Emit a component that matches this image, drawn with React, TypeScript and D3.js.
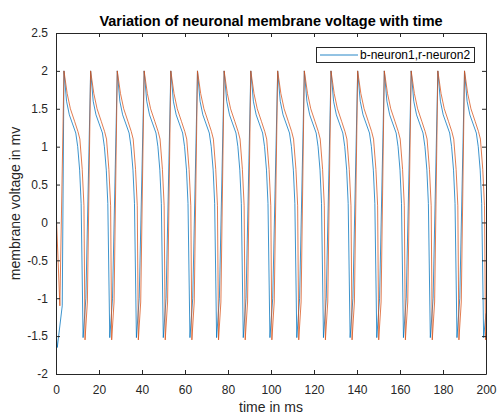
import React, { useEffect, useRef } from "react";
import * as d3 from "d3";

// axis ticks
const timeTicks = [0, 20, 40, 60, 80, 100, 120, 140, 160, 180, 200];
const voltTicks = [-2, -1.5, -1, -0.5, 0, 0.5, 1, 1.5, 2, 2.5];

const chartTitle = "Variation of neuronal membrane voltage with time";
const xTitle = "time in ms";
const yTitle = "membrane voltage in mv";
const legendLabel = "b-neuron1,r-neuron2";

// neuron 1 (blue)
const neuron1Time = [
  0, 0.6, 2.9,
  3.7, 4.9, 6.2, 7.7, 9.2, 10.1, 11.0, 11.7, 12.6, 13.9,
  16.1, 17.3, 18.6, 20.1, 21.6, 22.5, 23.4, 24.1, 25.0, 26.3,
  28.5, 29.7, 31.0, 32.5, 34.0, 34.9, 35.8, 36.5, 37.4, 38.7,
  41.0, 42.2, 43.5, 45.0, 46.5, 47.4, 48.3, 49.0, 49.9, 51.2,
  53.4, 54.6, 55.9, 57.4, 58.9, 59.8, 60.7, 61.4, 62.3, 63.6,
  65.8, 67.0, 68.3, 69.8, 71.3, 72.2, 73.1, 73.8, 74.7, 76.0,
  78.2, 79.4, 80.7, 82.2, 83.7, 84.6, 85.5, 86.2, 87.1, 88.4,
  90.6, 91.8, 93.1, 94.6, 96.1, 97.0, 97.9, 98.6, 99.5, 100.8,
  103.1, 104.3, 105.6, 107.1, 108.6, 109.5, 110.4, 111.1, 112.0, 113.3,
  115.5, 116.7, 118.0, 119.5, 121.0, 121.9, 122.8, 123.5, 124.4, 125.7,
  127.9, 129.1, 130.4, 131.9, 133.4, 134.3, 135.2, 135.9, 136.8, 138.1,
  140.3, 141.5, 142.8, 144.3, 145.8, 146.7, 147.6, 148.3, 149.2, 150.5,
  152.7, 153.9, 155.2, 156.7, 158.2, 159.1, 160.0, 160.7, 161.6, 162.9,
  165.2, 166.4, 167.7, 169.2, 170.7, 171.6, 172.5, 173.2, 174.1, 175.4,
  177.6, 178.8, 180.1, 181.6, 183.1, 184.0, 184.9, 185.6, 186.5, 187.8,
  190.0, 191.2, 192.5, 194.0, 195.5, 196.4, 197.3, 198.0, 198.9, 200,
];
const neuron1Volt = [
  -1.45, -1.65, -1.1,
  2.0, 1.6, 1.42, 1.3, 1.18, 1.0, 0.69, 0.25, -1.52, -1.0,
  2.0, 1.6, 1.42, 1.3, 1.18, 1.0, 0.69, 0.25, -1.52, -1.0,
  2.0, 1.6, 1.42, 1.3, 1.18, 1.0, 0.69, 0.25, -1.52, -1.0,
  2.0, 1.6, 1.42, 1.3, 1.18, 1.0, 0.69, 0.25, -1.52, -1.0,
  2.0, 1.6, 1.42, 1.3, 1.18, 1.0, 0.69, 0.25, -1.52, -1.0,
  2.0, 1.6, 1.42, 1.3, 1.18, 1.0, 0.69, 0.25, -1.52, -1.0,
  2.0, 1.6, 1.42, 1.3, 1.18, 1.0, 0.69, 0.25, -1.52, -1.0,
  2.0, 1.6, 1.42, 1.3, 1.18, 1.0, 0.69, 0.25, -1.52, -1.0,
  2.0, 1.6, 1.42, 1.3, 1.18, 1.0, 0.69, 0.25, -1.52, -1.0,
  2.0, 1.6, 1.42, 1.3, 1.18, 1.0, 0.69, 0.25, -1.52, -1.0,
  2.0, 1.6, 1.42, 1.3, 1.18, 1.0, 0.69, 0.25, -1.52, -1.0,
  2.0, 1.6, 1.42, 1.3, 1.18, 1.0, 0.69, 0.25, -1.52, -1.0,
  2.0, 1.6, 1.42, 1.3, 1.18, 1.0, 0.69, 0.25, -1.52, -1.0,
  2.0, 1.6, 1.42, 1.3, 1.18, 1.0, 0.69, 0.25, -1.52, -1.0,
  2.0, 1.6, 1.42, 1.3, 1.18, 1.0, 0.69, 0.25, -1.52, -1.0,
  2.0, 1.6, 1.42, 1.3, 1.18, 1.0, 0.69, 0.25, -1.52, -1.2,
];

// neuron 2 (red)
const neuron2Time = [
  0, 1.8,
  3.7, 5.2, 6.7, 8.7, 10.2, 11.1, 12.2, 13.0, 13.5, 14.6,
  16.1, 17.6, 19.1, 21.1, 22.6, 23.5, 24.6, 25.4, 25.9, 27.0,
  28.5, 30.0, 31.5, 33.5, 35.0, 35.9, 37.0, 37.8, 38.3, 39.4,
  41.0, 42.5, 44.0, 46.0, 47.5, 48.4, 49.5, 50.3, 50.8, 51.9,
  53.4, 54.9, 56.4, 58.4, 59.9, 60.8, 61.9, 62.7, 63.2, 64.3,
  65.8, 67.3, 68.8, 70.8, 72.3, 73.2, 74.3, 75.1, 75.6, 76.7,
  78.2, 79.7, 81.2, 83.2, 84.7, 85.6, 86.7, 87.5, 88.0, 89.1,
  90.6, 92.1, 93.6, 95.6, 97.1, 98.0, 99.1, 99.9, 100.4, 101.5,
  103.1, 104.6, 106.1, 108.1, 109.6, 110.5, 111.6, 112.4, 112.9, 114.0,
  115.5, 117.0, 118.5, 120.5, 122.0, 122.9, 124.0, 124.8, 125.3, 126.4,
  127.9, 129.4, 130.9, 132.9, 134.4, 135.3, 136.4, 137.2, 137.7, 138.8,
  140.3, 141.8, 143.3, 145.3, 146.8, 147.7, 148.8, 149.6, 150.1, 151.2,
  152.7, 154.2, 155.7, 157.7, 159.2, 160.1, 161.2, 162.0, 162.5, 163.6,
  165.2, 166.7, 168.2, 170.2, 171.7, 172.6, 173.7, 174.5, 175.0, 176.1,
  177.6, 179.1, 180.6, 182.6, 184.1, 185.0, 186.1, 186.9, 187.4, 188.5,
  190.0, 191.5, 193.0, 195.0, 196.5, 197.4, 198.5, 199.3, 199.8, 200,
];
const neuron2Volt = [
  0.2, -1.1,
  2.0, 1.7, 1.5, 1.33, 1.2, 1.1, 0.7, 0.22, -1.55, -1.05,
  2.0, 1.7, 1.5, 1.33, 1.2, 1.1, 0.7, 0.22, -1.55, -1.05,
  2.0, 1.7, 1.5, 1.33, 1.2, 1.1, 0.7, 0.22, -1.55, -1.05,
  2.0, 1.7, 1.5, 1.33, 1.2, 1.1, 0.7, 0.22, -1.55, -1.05,
  2.0, 1.7, 1.5, 1.33, 1.2, 1.1, 0.7, 0.22, -1.55, -1.05,
  2.0, 1.7, 1.5, 1.33, 1.2, 1.1, 0.7, 0.22, -1.55, -1.05,
  2.0, 1.7, 1.5, 1.33, 1.2, 1.1, 0.7, 0.22, -1.55, -1.05,
  2.0, 1.7, 1.5, 1.33, 1.2, 1.1, 0.7, 0.22, -1.55, -1.05,
  2.0, 1.7, 1.5, 1.33, 1.2, 1.1, 0.7, 0.22, -1.55, -1.05,
  2.0, 1.7, 1.5, 1.33, 1.2, 1.1, 0.7, 0.22, -1.55, -1.05,
  2.0, 1.7, 1.5, 1.33, 1.2, 1.1, 0.7, 0.22, -1.55, -1.05,
  2.0, 1.7, 1.5, 1.33, 1.2, 1.1, 0.7, 0.22, -1.55, -1.05,
  2.0, 1.7, 1.5, 1.33, 1.2, 1.1, 0.7, 0.22, -1.55, -1.05,
  2.0, 1.7, 1.5, 1.33, 1.2, 1.1, 0.7, 0.22, -1.55, -1.05,
  2.0, 1.7, 1.5, 1.33, 1.2, 1.1, 0.7, 0.22, -1.55, -1.05,
  2.0, 1.7, 1.5, 1.33, 1.2, 1.1, 0.7, 0.22, -1.55, -1.45,
];

const width = 498;
const height = 417;
const plot = { left: 56, right: 486, top: 33, bottom: 374 };
const axisColor = "#262626";
const font = "'Liberation Sans', Arial, Helvetica, sans-serif";

export default function App() {
  const svgRef = useRef<SVGSVGElement>(null);

  useEffect(() => {
    const svg = d3.select(svgRef.current);
    svg.selectAll("*").remove();

    const x = d3.scaleLinear().domain([0, 200]).range([plot.left, plot.right]);
    const y = d3.scaleLinear().domain([-2, 2.5]).range([plot.bottom, plot.top]);

    svg.append("rect").attr("width", width).attr("height", height).attr("fill", "#fff");

    svg.append("defs").append("clipPath").attr("id", "plot-clip")
      .append("rect")
      .attr("x", plot.left).attr("y", plot.top)
      .attr("width", plot.right - plot.left).attr("height", plot.bottom - plot.top);

    const series = [
      { times: neuron1Time, volts: neuron1Volt, color: "#0072BD" },
      { times: neuron2Time, volts: neuron2Volt, color: "#D95319" },
    ];

    const line = d3.line<[number, number]>().x((d) => x(d[0])).y((d) => y(d[1]));
    const lines = svg.append("g").attr("clip-path", "url(#plot-clip)");
    series.forEach((s) => {
      const pts: [number, number][] = s.times.map((t, i) => [t, s.volts[i]]);
      lines.append("path")
        .datum(pts)
        .attr("fill", "none")
        .attr("stroke", s.color)
        .attr("stroke-width", 0.9)
        .attr("stroke-opacity", 0.85)
        .attr("stroke-linejoin", "round")
        .attr("d", line);
    });

    const fmt = (d: d3.NumberValue) => String(d);
    const styleAxis = (g: d3.Selection<SVGGElement, unknown, null, undefined>) => {
      g.selectAll(".domain").attr("stroke", axisColor);
      g.selectAll(".tick line").attr("stroke", axisColor);
      g.selectAll(".tick text")
        .attr("fill", axisColor)
        .style("font-family", font)
        .style("font-size", "12px");
    };

    svg.append("g")
      .attr("transform", `translate(0,${plot.bottom})`)
      .call(d3.axisBottom(x).tickValues(timeTicks).tickSizeInner(-4).tickSizeOuter(0).tickPadding(11).tickFormat(fmt))
      .call(styleAxis);

    svg.append("g")
      .attr("transform", `translate(0,${plot.top})`)
      .call(d3.axisTop(x).tickValues(timeTicks).tickSizeInner(-4).tickSizeOuter(0).tickFormat(() => ""))
      .call(styleAxis);

    svg.append("g")
      .attr("transform", `translate(${plot.left},0)`)
      .call(d3.axisLeft(y).tickValues(voltTicks).tickSizeInner(-4).tickSizeOuter(0).tickPadding(8).tickFormat(fmt))
      .call(styleAxis);

    svg.append("g")
      .attr("transform", `translate(${plot.right},0)`)
      .call(d3.axisRight(y).tickValues(voltTicks).tickSizeInner(-4).tickSizeOuter(0).tickFormat(() => ""))
      .call(styleAxis);

    // title and axis labels
    svg.append("text")
      .attr("x", (plot.left + plot.right) / 2)
      .attr("y", 26)
      .attr("text-anchor", "middle")
      .style("font-family", font)
      .style("font-size", "14.5px")
      .style("font-weight", "bold")
      .attr("fill", "#000")
      .text(chartTitle);

    svg.append("text")
      .attr("x", (plot.left + plot.right) / 2)
      .attr("y", 412)
      .attr("text-anchor", "middle")
      .style("font-family", font)
      .style("font-size", "14px")
      .attr("fill", axisColor)
      .text(xTitle);

    svg.append("text")
      .attr("transform", `translate(20,${(plot.top + plot.bottom) / 2}) rotate(-90)`)
      .attr("text-anchor", "middle")
      .style("font-family", font)
      .style("font-size", "14px")
      .attr("fill", axisColor)
      .text(yTitle);

    // legend
    const legend = svg.append("g");
    legend.append("rect")
      .attr("x", 316.5).attr("y", 47.5)
      .attr("width", 158).attr("height", 15)
      .attr("fill", "#fff")
      .attr("stroke", axisColor)
      .attr("stroke-width", 1);
    legend.append("line")
      .attr("x1", 320).attr("x2", 358)
      .attr("y1", 55).attr("y2", 55)
      .attr("stroke", "#0072BD")
      .attr("stroke-opacity", 0.85);
    legend.append("text")
      .attr("x", 360).attr("y", 59)
      .style("font-family", font)
      .style("font-size", "12px")
      .attr("fill", "#000")
      .text(legendLabel);
  }, []);

  return (
    <svg
      ref={svgRef}
      width={width}
      height={height}
      style={{ position: "absolute", left: 0, top: 0 }}
    />
  );
}
